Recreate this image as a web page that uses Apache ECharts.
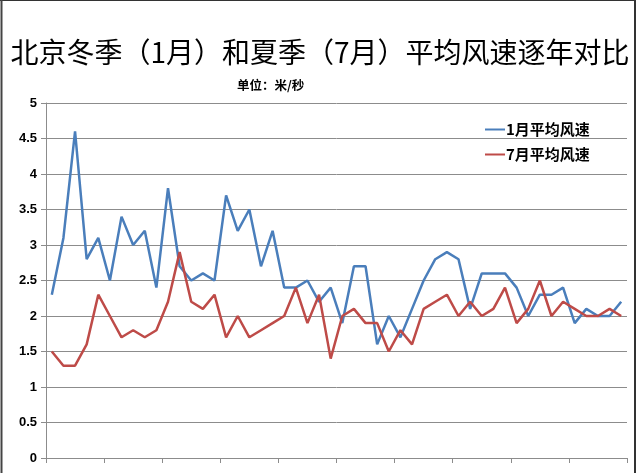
<!DOCTYPE html>
<html>
<head>
<meta charset="utf-8">
<script src="https://cdn.jsdelivr.net/npm/echarts@6/dist/echarts.min.js"></script>
<style>
html,body{margin:0;padding:0;background:#fff;}
#c{width:640px;height:473px;}
</style>
</head>
<body>
<div id="c"></div>
<script>
var years = [];
for (var y = 1961; y <= 2010; y++) years.push(String(y));
var janSpeed = [2.3,3.1,4.6,2.8,3.1,2.5,3.4,3.0,3.2,2.4,
                3.8,2.7,2.5,2.6,2.5,3.7,3.2,3.5,2.7,3.2,
                2.4,2.4,2.5,2.2,2.4,1.9,2.7,2.7,1.6,2.0,
                1.7,2.1,2.5,2.8,2.9,2.8,2.1,2.6,2.6,2.6,
                2.4,2.0,2.3,2.3,2.4,1.9,2.1,2.0,2.0,2.2];
var julSpeed = [1.5,1.3,1.3,1.6,2.3,2.0,1.7,1.8,1.7,1.8,
                2.2,2.9,2.2,2.1,2.3,1.7,2.0,1.7,1.8,1.9,
                2.0,2.4,1.9,2.3,1.4,2.0,2.1,1.9,1.9,1.5,
                1.8,1.6,2.1,2.2,2.3,2.0,2.2,2.0,2.1,2.4,
                1.9,2.1,2.5,2.0,2.2,2.1,2.0,2.0,2.1,2.0];
var yTicks = [0,0.5,1,1.5,2,2.5,3,3.5,4,4.5,5];

var chart = echarts.init(document.getElementById('c'), null, {renderer:'canvas'});
chart.setOption({
  animation: false,
  backgroundColor: '#fff',
  title: [{
    text: '北京冬季（1月）和夏季（7月）平均风速逐年对比',
    left: 'center', top: 33,
    textStyle: {fontFamily: 'Noto Sans CJK SC', fontSize: 28, fontWeight: 'normal', color: '#000'}
  },{
    text: '单位：米/秒',
    left: 232, top: 74,
    textStyle: {fontFamily: 'Noto Sans CJK SC', fontSize: 12.5, fontWeight: 'bold', color: '#000'}
  }],
  legend: {
    orient: 'vertical',
    left: 480, top: 117,
    itemWidth: 20, itemHeight: 2, itemGap: 10,
    icon: 'rect',
    textStyle: {fontFamily: 'Noto Sans CJK SC', fontSize: 15, fontWeight: 'bold', color: '#000', padding:[0,0,0,-4]},
    data: ['1月平均风速','7月平均风速']
  },
  grid: {left: 46, right: 13, top: 103, bottom: 15, containLabel: false},
  xAxis: {
    type: 'category', data: years, boundaryGap: true,
    axisLine: {lineStyle: {color: '#8c8c8c', width: 1}},
    axisTick: {show: true, interval: 4, length: 5, lineStyle: {color: '#8c8c8c'}},
    axisLabel: {show: false},
    splitLine: {show: false}
  },
  yAxis: {
    type: 'value', min: 0, max: 5, interval: 0.5,
    axisLine: {show: true, lineStyle: {color: '#8c8c8c', width: 1}},
    axisTick: {show: true, length: 5, lineStyle: {color: '#8c8c8c'}},
    axisLabel: {margin: 9, fontFamily: 'Liberation Sans', fontSize: 13, fontWeight: 'bold', color: '#000',
      formatter: function(v){ return String(v); }},
    splitLine: {lineStyle: {color: '#8c8c8c', width: 1}}
  },
  series: [{
    name: '1月平均风速', type: 'line', data: janSpeed, showSymbol: false, symbol: 'none',
    lineStyle: {color: '#4a7ebb', width: 2.5}, itemStyle: {color: '#4a7ebb'}
  },{
    name: '7月平均风速', type: 'line', data: julSpeed, showSymbol: false, symbol: 'none',
    lineStyle: {color: '#be4b48', width: 2.5}, itemStyle: {color: '#be4b48'}
  }],
  graphic: [
    {type: 'line', shape: {x1: 0, y1: 0.5, x2: 636, y2: 0.5}, style: {stroke: '#333', lineWidth: 1}},
    {type: 'line', shape: {x1: 1.5, y1: 0, x2: 1.5, y2: 473}, style: {stroke: '#444', lineWidth: 2}},
    {type: 'line', shape: {x1: 635, y1: 0, x2: 635, y2: 473}, style: {stroke: '#333', lineWidth: 2}}
  ]
});
</script>
</body>
</html>
